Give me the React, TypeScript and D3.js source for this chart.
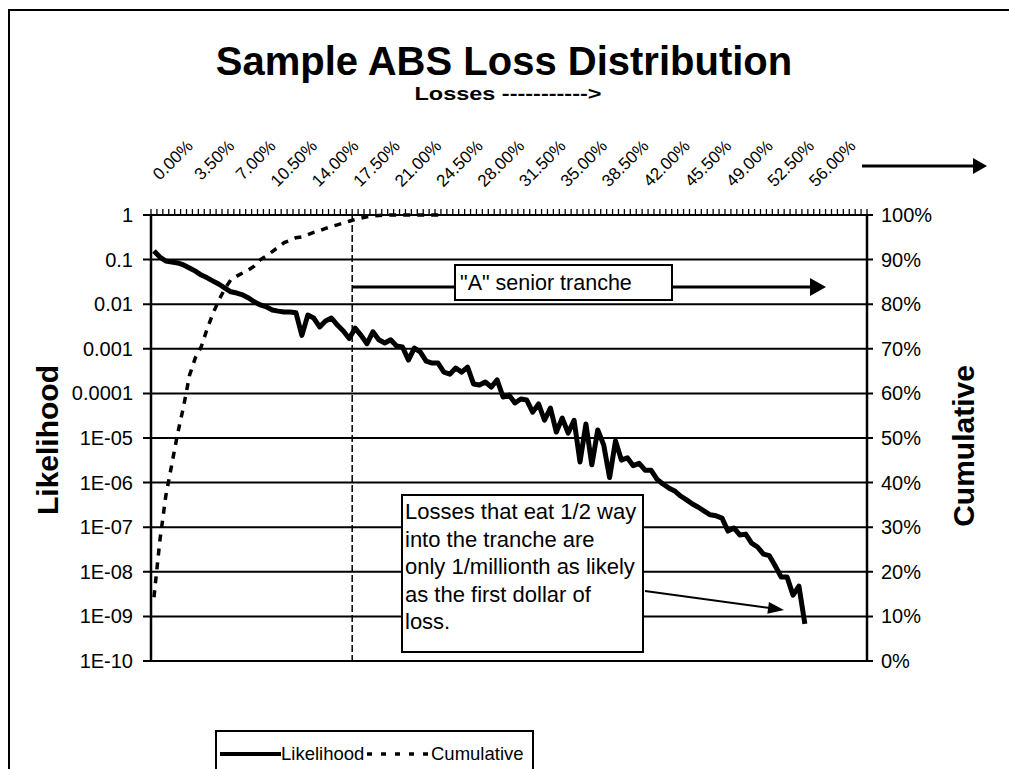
import * as d3 from 'd3';

// loss buckets, 0.00% .. 60.00% in 0.5% steps
const lossPct = d3.range(0, 121).map(i => i * 0.5);
const xTickLabels = [
  '0.00%', '3.50%', '7.00%', '10.50%', '14.00%', '17.50%', '21.00%', '24.50%', '28.00%',
  '31.50%', '35.00%', '38.50%', '42.00%', '45.50%', '49.00%', '52.50%', '56.00%',
];

const likelihood = [
  0.156, 0.114, 0.093, 0.088, 0.084, 0.076, 0.065, 0.055, 0.045, 0.039,
  0.033, 0.028, 0.023, 0.019, 0.0178, 0.0161, 0.0138, 0.0112, 0.0096, 0.0087,
  0.0074, 0.007, 0.0067, 0.0067, 0.0064, 0.002, 0.0057, 0.0049, 0.0031, 0.0042,
  0.0049, 0.0034, 0.0025, 0.0017, 0.0029, 0.002, 0.0013, 0.0024, 0.0016, 0.00135,
  0.0016, 0.00116, 0.0011, 0.00056, 0.00104, 0.00085, 0.00053, 0.00048, 0.00048, 0.0003,
  0.00027, 0.00037, 0.0003, 0.00039, 0.000163, 0.000154, 0.00018, 0.000139, 0.0002, 0.000083,
  0.000092, 0.000061, 0.000075, 0.000071, 0.000038, 0.000058, 0.000025, 0.000047, 0.0000136, 0.000028,
  0.0000129, 0.000025, 0.0000029, 0.0000206, 0.0000025, 0.0000151, 0.000007, 0.0000013, 0.0000086, 0.0000032,
  0.0000036, 0.0000024, 0.0000027, 0.0000019, 0.0000019, 0.0000012, 9.3e-7, 7.6e-7, 6.5e-7, 5.0e-7,
  4.1e-7, 3.3e-7, 2.8e-7, 2.3e-7, 1.9e-7, 1.8e-7, 1.6e-7, 8.2e-8, 9.6e-8, 6.7e-8,
  7.0e-8, 4.4e-8, 3.6e-8, 2.5e-8, 2.3e-8, 1.35e-8, 7.6e-9, 7.6e-9, 3.0e-9, 4.8e-9,
  6.8e-10,
];

const cumulative = [
  0.143, 0.27, 0.37, 0.44, 0.51, 0.57, 0.64, 0.68, 0.705, 0.745,
  0.78, 0.81, 0.835, 0.855, 0.863, 0.87, 0.877, 0.886, 0.9, 0.908,
  0.918, 0.928, 0.938, 0.943, 0.949, 0.951, 0.956, 0.961, 0.965, 0.97,
  0.974, 0.978, 0.982, 0.986, 0.99, 0.993, 0.996, 0.998, 0.999, 0.9995,
  1, 1, 1, 1, 1, 1, 1, 1, 1, 1,
];

const leftTicks = [1, 0.1, 0.01, 0.001, 0.0001, 1e-5, 1e-6, 1e-7, 1e-8, 1e-9, 1e-10];
const leftTickLabels = ['1', '0.1', '0.01', '0.001', '0.0001', '1E-05', '1E-06', '1E-07', '1E-08', '1E-09', '1E-10'];
const rightTicks = [0, 0.1, 0.2, 0.3, 0.4, 0.5, 0.6, 0.7, 0.8, 0.9, 1];

const trancheStart = 34; // bucket where the "A" tranche attaches
const trancheLabel = '"A" senior tranche';
const noteLines = [
  'Losses that eat 1/2 way',
  'into the tranche are',
  'only 1/millionth as likely',
  'as the first dollar of',
  'loss.',
];

const FONT = '"Liberation Sans", Arial, sans-serif';

function arrowHead(x1: number, y1: number, x2: number, y2: number, len: number, half: number) {
  const a = Math.atan2(y2 - y1, x2 - x1);
  const bx = x2 - len * Math.cos(a);
  const by = y2 - len * Math.sin(a);
  const px = -Math.sin(a) * half;
  const py = Math.cos(a) * half;
  return `${x2},${y2} ${bx + px},${by + py} ${bx - px},${by - py}`;
}

export default function App() {
  const W = 1009;
  const H = 769;
  const plot = { left: 151, right: 867, top: 215, bottom: 661 };

  const x = d3.scaleBand<number>().domain(lossPct).range([plot.left, plot.right]);
  const bw = x.bandwidth();
  const cx = (i: number) => (x(lossPct[i]) as number) + bw / 2;
  const yL = d3.scaleLog().domain([1e-10, 1]).range([plot.bottom, plot.top]);
  const yR = d3.scaleLinear().domain([0, 1]).range([plot.bottom, plot.top]);

  const likeLine = d3.line<number>().x((_, i) => cx(i)).y(d => yL(d));
  const cumLine = d3.line<number>().x((_, i) => cx(i)).y(d => yR(d));

  const trancheX = x(lossPct[trancheStart]) as number;

  // annotation geometry
  const tbox = { x: 455, y: 265, w: 217, h: 35 };
  const arrowY = 287;
  const nbox = { x: 402, y: 495, w: 241, h: 157 };
  const noteArrow = { x1: nbox.x + nbox.w + 2, y1: 591, x2: 784, y2: 610 };

  return (
    <svg width={W} height={H} style={{ position: 'fixed', left: 0, top: 0, background: '#fff' }} fontFamily={FONT}>
      <rect x={9} y={10} width={1100} height={1000} fill="#fff" stroke="#000" strokeWidth={2} />

      <text x={504} y={75} textAnchor="middle" fontSize={40} fontWeight="bold">Sample ABS Loss Distribution</text>
      <text x={508} y={100} textAnchor="middle" fontSize={19} fontWeight="bold"
        textLength={187} lengthAdjust="spacingAndGlyphs">Losses -----------&gt;</text>

      {/* x labels along the top */}
      {xTickLabels.map(lab => {
        const i = lossPct.findIndex(p => p.toFixed(2) + '%' === lab);
        return (
          <text key={'xl' + lab} transform={`translate(${cx(i) + 40},${147}) rotate(-45)`} textAnchor="end"
            fontSize={17}>{lab}</text>
        );
      })}
      <line x1={862} y1={166} x2={976} y2={166} stroke="#000" strokeWidth={3} />
      <polygon points={arrowHead(862, 166, 987, 166, 14, 8)} fill="#000" />

      {/* gridlines */}
      {leftTicks.map(t => (
        <line key={'g' + t} x1={plot.left - 8} x2={plot.right + 6} y1={yL(t)} y2={yL(t)} stroke="#000" strokeWidth={2} />
      ))}
      {/* top axis ticks */}
      {d3.range(lossPct.length + 1).map(i => {
        const xx = plot.left + i * bw;
        return <line key={'t' + i} x1={xx} x2={xx} y1={plot.top - 6} y2={plot.top} stroke="#000" strokeWidth={1.3} />;
      })}
      <line x1={plot.left} x2={plot.left} y1={plot.top} y2={plot.bottom} stroke="#000" strokeWidth={2.5} />
      <line x1={plot.right} x2={plot.right} y1={plot.top} y2={plot.bottom} stroke="#000" strokeWidth={2.5} />

      {leftTicks.map((t, i) => (
        <text key={'yl' + t} x={133} y={yL(t)} dy="0.35em" textAnchor="end" fontSize={20}>{leftTickLabels[i]}</text>
      ))}
      {rightTicks.map(t => (
        <text key={'yr' + t} x={881} y={yR(t)} dy="0.35em" fontSize={20}>{Math.round(t * 100) + '%'}</text>
      ))}

      <text transform={`translate(47,440) rotate(-90)`} textAnchor="middle" dy="0.35em" fontSize={30} fontWeight="bold">Likelihood</text>
      <text transform={`translate(963,446) rotate(-90)`} textAnchor="middle" dy="0.35em" fontSize={30} fontWeight="bold">Cumulative</text>

      {/* tranche divider */}
      <line x1={trancheX} x2={trancheX} y1={plot.top} y2={plot.bottom} stroke="#000" strokeWidth={1.5} strokeDasharray="7,3" />

      <path d={cumLine(cumulative) ?? ''} fill="none" stroke="#000" strokeWidth={3.5} strokeDasharray="7,7" />
      <path d={likeLine(likelihood) ?? ''} fill="none" stroke="#000" strokeWidth={5} strokeLinejoin="round" />

      {/* "A" senior tranche arrow */}
      <line x1={trancheX} x2={812} y1={arrowY} y2={arrowY} stroke="#000" strokeWidth={3} />
      <polygon points={arrowHead(trancheX, arrowY, 826, arrowY, 16, 9)} fill="#000" />
      <rect x={tbox.x} y={tbox.y} width={tbox.w} height={tbox.h} fill="#fff" stroke="#000" strokeWidth={2} />
      <text x={tbox.x + 5} y={tbox.y + 25} fontSize={21.5}>{trancheLabel}</text>

      {/* note box */}
      <rect x={nbox.x} y={nbox.y} width={nbox.w} height={nbox.h} fill="#fff" stroke="#000" strokeWidth={2} />
      {noteLines.map((s, i) => (
        <text key={'n' + i} x={nbox.x + 3} y={nbox.y + 24 + i * 27.5} fontSize={22}>{s}</text>
      ))}
      <line x1={noteArrow.x1} y1={noteArrow.y1} x2={noteArrow.x2 - 14} y2={noteArrow.y2 - 2} stroke="#000" strokeWidth={2} />
      <polygon points={arrowHead(noteArrow.x1, noteArrow.y1, noteArrow.x2, noteArrow.y2, 16, 6)} fill="#000" />

      {/* legend */}
      <rect x={216} y={731} width={317} height={60} fill="#fff" stroke="#000" strokeWidth={2} />
      <line x1={220} x2={281} y1={754} y2={754} stroke="#000" strokeWidth={4} />
      <text x={281} y={760} fontSize={18.5}>Likelihood</text>
      <line x1={367} x2={430} y1={754} y2={754} stroke="#000" strokeWidth={3.5} strokeDasharray="5,9" />
      <text x={431} y={760} fontSize={18.5}>Cumulative</text>
    </svg>
  );
}
